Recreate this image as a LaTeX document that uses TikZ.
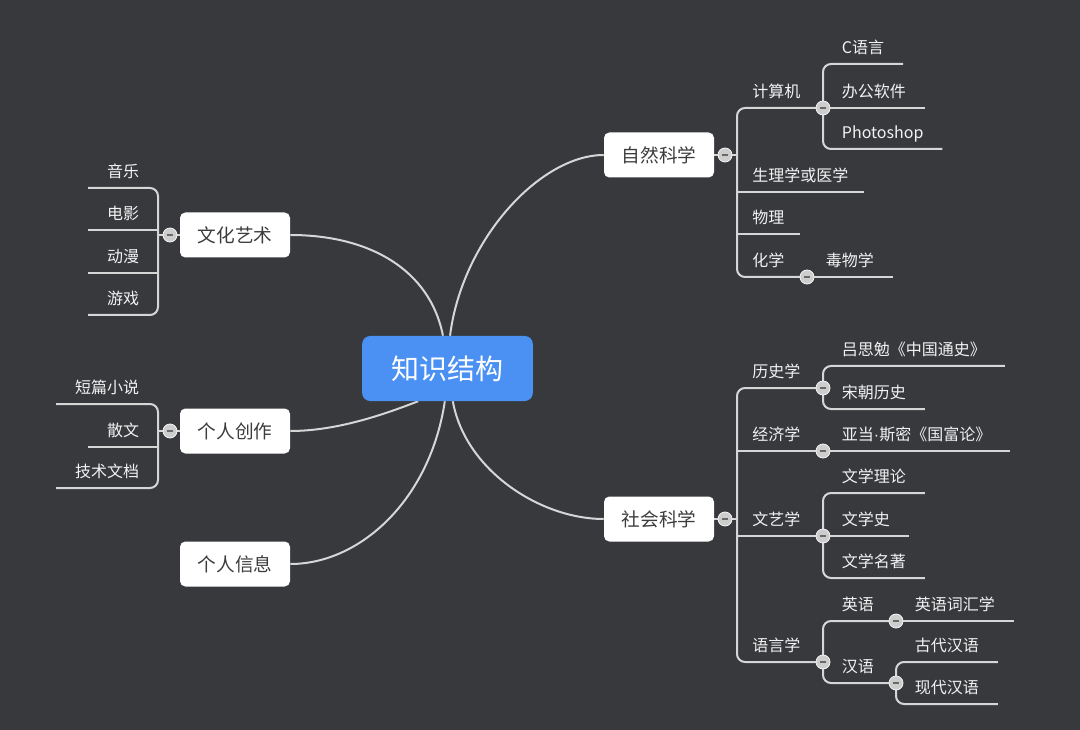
\documentclass[tikz,border=0pt]{standalone}
\usepackage{fontspec}
\usepackage{color}
\usepackage[usenames,dvipsnames]{xcolor}
\newfontfamily\cjk{Noto Sans CJK SC}
\newfontfamily\dotfont{Liberation Sans}

\definecolor{bgdark}{RGB}{55,57,61}
\definecolor{rootblue}{RGB}{75,145,243}
\definecolor{twig}{RGB}{214,214,214}
\definecolor{foldfill}{RGB}{205,205,205}
\definecolor{foldbar}{RGB}{105,105,105}
\definecolor{topicink}{RGB}{60,60,60}
\definecolor{leafink}{RGB}{242,242,242}

\pgfdeclarelayer{bg}
\pgfdeclarelayer{edges}
\pgfsetlayers{bg,edges,main}

\tikzset{
  branch/.style={draw=twig, line width=1.5pt},
  bracket/.style={branch, rounded corners=6pt},
  root/.style={fill=rootblue, rounded corners=6pt, minimum width=128pt, minimum height=48.75pt, inner sep=0pt, font=\cjk\fontsize{21}{25}\selectfont, text=white},
  topic/.style={fill=white, rounded corners=4pt, minimum width=82.5pt, minimum height=33.75pt, inner sep=0pt, font=\cjk\fontsize{14}{17}\selectfont, text=topicink},
  leaf/.style={font=\cjk\fontsize{12}{14}\selectfont, text=leafink, inner xsep=14pt, inner ysep=8pt, text depth=0pt},
  sub/.style={leaf, inner xsep=11.25pt, anchor=south west},
  rleaf/.style={leaf, anchor=south west},
  lleaf/.style={leaf, anchor=south east},
  fold/.style={circle, fill=foldfill, draw=white!80!foldfill, line width=0.6pt, minimum size=10.5pt, inner sep=0pt,
    path picture={\draw[foldbar, line width=1.9pt] ([xshift=-2.6pt]path picture bounding box.center) -- ([xshift=2.6pt]path picture bounding box.center);}}
}

\begin{document}
\begin{tikzpicture}[x=0.75pt,y=0.75pt,yscale=-1,xscale=1]
\useasboundingbox (0,0) rectangle (1080,730);
\begin{pgfonlayer}{bg}
\fill[bgdark] (0,0) rectangle (1080,730);
\end{pgfonlayer}

%Shape: Root
\draw (447.5,368.5) node [root] (root) {知识结构};

%Shape: Topics
\draw (659,155) node [topic] (nat) {自然科学};
\draw (659,519) node [topic] (soc) {社会科学};
\draw (235,235) node [topic] (art) {文化艺术};
\draw (235,431) node [topic] (create) {个人创作};
\draw (235,564) node [topic] (info) {个人信息};

% Text Node -- natural sciences
\draw (737,108) node [sub] (comp) {计算机};
\draw (737,192) node [sub] (physio) {生理学或医学};
\draw (737,234) node [sub] (phys) {物理};
\draw (737,277) node [sub] (chem) {化学};
\draw (823,64) node [rleaf] (clang) {C语言};
\draw (823,108) node [rleaf] (office) {办公软件};
\draw (823,149) node [rleaf] (ps) {Photoshop};
\draw (807,277) node [rleaf] (tox) {毒物学};

% Text Node -- social sciences
\draw (737,388) node [sub] (hist) {历史学};
\draw (737,451) node [sub] (econ) {经济学};
\draw (737,536) node [sub] (lit) {文艺学};
\draw (737,662) node [sub] (ling) {语言学};
\draw (823,366) node [rleaf] (lu) {吕思勉《中国通史》};
\draw (823,409) node [rleaf] (song) {宋朝历史};
\draw (823,451) node [rleaf] (smith) {亚当{\dotfont ·}斯密《国富论》};
\draw (823,493) node [rleaf] (theory) {文学理论};
\draw (823,536) node [rleaf] (lhist) {文学史};
\draw (823,578) node [rleaf] (classics) {文学名著};
\draw (823,621) node [rleaf] (eng) {英语};
\draw (823,683) node [rleaf] (chn) {汉语};
\draw (896,621) node [rleaf] (vocab) {英语词汇学};
\draw (896,662) node [rleaf] (anc) {古代汉语};
\draw (896,704) node [rleaf] (modern) {现代汉语};

% Text Node -- left side
\draw (158,188) node [lleaf] (music) {音乐};
\draw (158,230) node [lleaf] (film) {电影};
\draw (158,273) node [lleaf] (anime) {动漫};
\draw (158,315) node [lleaf] (game) {游戏};
\draw (158,404) node [lleaf] (short) {短篇小说};
\draw (158,447) node [lleaf] (essay) {散文};
\draw (158,488) node [lleaf] (doc) {技术文档};

%Shape: Fold buttons
\draw (725,155) node [fold] (fnat) {};
\draw (823,108) node [fold] (fcomp) {};
\draw (807,277) node [fold] (fchem) {};
\draw (725,519) node [fold] (fsoc) {};
\draw (823,388) node [fold] (fhist) {};
\draw (823,451) node [fold] (fecon) {};
\draw (823,536) node [fold] (flit) {};
\draw (823,662) node [fold] (fling) {};
\draw (896,621) node [fold] (feng) {};
\draw (896,683) node [fold] (fchn) {};
\draw (170,235) node [fold] (fart) {};
\draw (170,431) node [fold] (fcre) {};

\begin{pgfonlayer}{edges}
%Curve Lines
\draw [branch] ([xshift=1.9pt]root.north) .. controls (462,240) and (540,155) .. (nat.west);
\draw [branch] ([xshift=-3.4pt]root.north) .. controls (430,270) and (370,235) .. (art.east);
\draw [branch] ([xshift=-22pt]root.south) .. controls (390,412) and (340,431) .. (create.east);
\draw [branch] ([xshift=-2pt]root.south) .. controls (430,500) and (360,564) .. (info.east);
\draw [branch] ([xshift=4pt]root.south) .. controls (465,470) and (540,519) .. (soc.west);

%Straight Lines -- natural sciences
\draw [branch] (nat.east) -- (fnat -| comp.south west);
\draw [bracket] (fcomp.center) -- (comp.south west) -- (chem.south west) -- (fchem.center);
\draw [branch] (physio.south west) -- (physio.south east);
\draw [branch] (phys.south west) -- (phys.south east);
\draw [branch] (fchem.center) -- (tox.south east);
\draw [bracket] (clang.south east) -- (clang.south west) -- (ps.south west) -- (ps.south east);
\draw [branch] (office.south west) -- (office.south east);

%Straight Lines -- social sciences
\draw [branch] (soc.east) -- (fsoc -| hist.south west);
\draw [bracket] (fhist.center) -- (hist.south west) -- (ling.south west) -- (fling.center);
\draw [branch] (econ.south west) -- (smith.south east);
\draw [branch] (lit.south west) -- (flit.center);
\draw [bracket] (lu.south east) -- (lu.south west) -- (song.south west) -- (song.south east);
\draw [bracket] (theory.south east) -- (theory.south west) -- (classics.south west) -- (classics.south east);
\draw [branch] (lhist.south west) -- (lhist.south east);
\draw [bracket] (feng.center) -- (eng.south west) -- (chn.south west) -- (fchn.center);
\draw [branch] (feng.center) -- (vocab.south east);
\draw [bracket] (anc.south east) -- (anc.south west) -- (modern.south west) -- (modern.south east);

%Straight Lines -- left side
\draw [branch] (art.west) -- (fart -| music.south east);
\draw [bracket] (music.south west) -- (music.south east) -- (game.south east) -- (game.south west);
\draw [branch] (film.south west) -- (film.south east);
\draw [branch] (anime.south west) -- (anime.south east);
\draw [branch] (create.west) -- (fcre -| short.south east);
\draw [bracket] (short.south west) -- (short.south east) -- (doc.south east) -- (doc.south west);
\draw [branch] (essay.south west) -- (essay.south east);
\end{pgfonlayer}

\end{tikzpicture}
\end{document}
